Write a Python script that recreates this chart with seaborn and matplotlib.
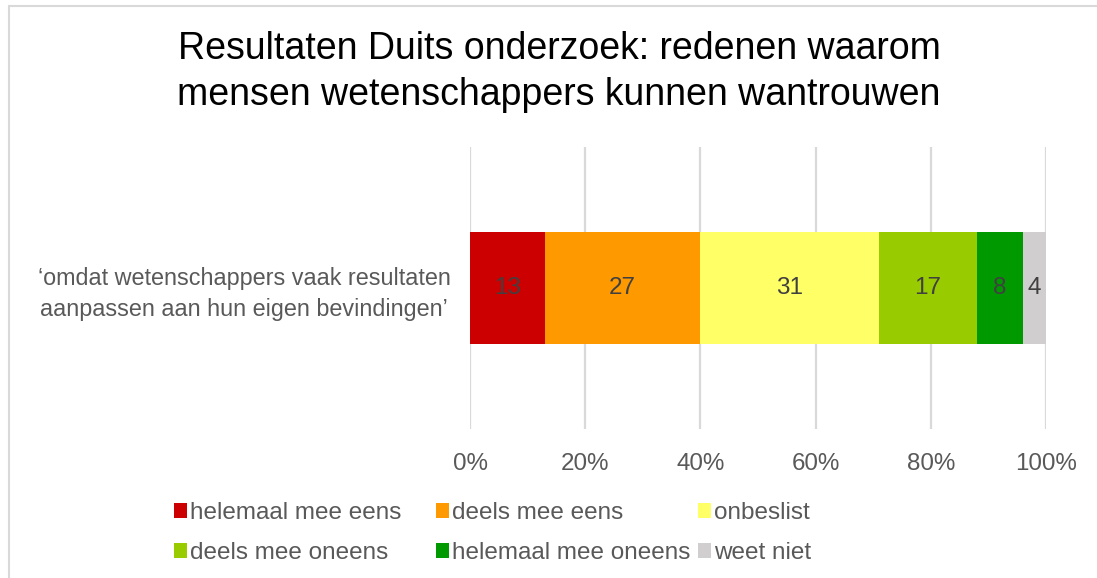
import matplotlib
matplotlib.use("Agg")
import matplotlib.pyplot as plt
import seaborn as sns
import pandas as pd
import numpy as np
from matplotlib.patches import Patch
from matplotlib.lines import Line2D

# ---- data ----
question = ["\u2018omdat wetenschappers vaak resultaten\naanpassen aan hun eigen bevindingen\u2019"]
answers = ["helemaal mee eens", "deels mee eens", "onbeslist",
           "deels mee oneens", "helemaal mee oneens", "weet niet"]
percentages = [13, 27, 31, 17, 8, 4]
colors = ["#CC0000", "#FF9900", "#FFFF66", "#99CC00", "#009900", "#D0CECE"]
xticks = [0, 20, 40, 60, 80, 100]
title = "Resultaten Duits onderzoek: redenen waarom\nmensen wetenschappers kunnen wantrouwen"

sns.set_theme(style="white")
plt.rcParams["font.family"] = ["Liberation Sans", "DejaVu Sans"]

W, H = 1097, 578
fig = plt.figure(figsize=(W / 100, H / 100), dpi=100)
ax = fig.add_axes([470 / W, 1 - 429 / H, (1046 - 470) / W, (429 - 147) / H])

cum = np.cumsum(percentages)
df = pd.DataFrame({"answer": answers, "pct": percentages, "end": cum,
                   "start": cum - np.array(percentages), "q": question * len(answers)})

# draw cumulative bars from the longest to the shortest so each segment shows
for i in range(len(answers) - 1, -1, -1):
    sub = df.iloc[[i]]
    sns.barplot(data=sub, x="end", y="q", color=colors[i], orient="h",
                width=0.4, saturation=1, ax=ax, linewidth=0, errorbar=None)

for _, r in df.iterrows():
    ax.text((r["start"] + r["end"]) / 2, 0, str(r["pct"]), ha="center", va="center",
            fontsize=17.5, color="#404040")

ax.set_xlim(0, 100)
ax.set_ylim(0.5, -0.5)
ax.set_xticks(xticks)
ax.set_xticklabels([f"{t}%" for t in xticks], fontsize=17.4, color="#595959")
ax.tick_params(axis="x", length=0, pad=17)
ax.tick_params(axis="y", length=0, pad=14)
for lab in ax.get_yticklabels():
    lab.set_fontsize(16.8)
    lab.set_color("#595959")
    lab.set_multialignment("center")
    lab.set_linespacing(1.4)
ax.set_xlabel("")
ax.set_ylabel("")
ax.grid(axis="x", color="#D9D9D9", linewidth=1.6)
ax.set_axisbelow(True)
for s in ax.spines.values():
    s.set_visible(False)

fig.text(559 / W, 1 - 72 / H, title, ha="center", va="center", fontsize=27,
         color="#000000", linespacing=1.36)

# legends: three columns of two rows each
col_x = [174, 436, 698]
for c in range(3):
    idx = [c, c + 3]
    handles = [Patch(facecolor=colors[k], edgecolor="none") for k in idx]
    leg = fig.legend(handles, [answers[k] for k in idx], loc="upper left",
                     bbox_to_anchor=(col_x[c] / W, 1 - 502 / H), frameon=False,
                     fontsize=17.5, handlelength=0.55, handleheight=0.55,
                     handletextpad=0.12, labelspacing=0.75, borderpad=0,
                     borderaxespad=0)
    for t in leg.get_texts():
        t.set_color("#595959")

# chart area border (top and left visible)
fig.add_artist(Line2D([9 / W, 1], [1 - 6 / H, 1 - 6 / H], transform=fig.transFigure,
                      color="#D9D9D9", linewidth=1.5))
fig.add_artist(Line2D([9 / W, 9 / W], [0, 1 - 6 / H], transform=fig.transFigure,
                      color="#D9D9D9", linewidth=1.5))

fig.savefig("out.png", dpi=100)
